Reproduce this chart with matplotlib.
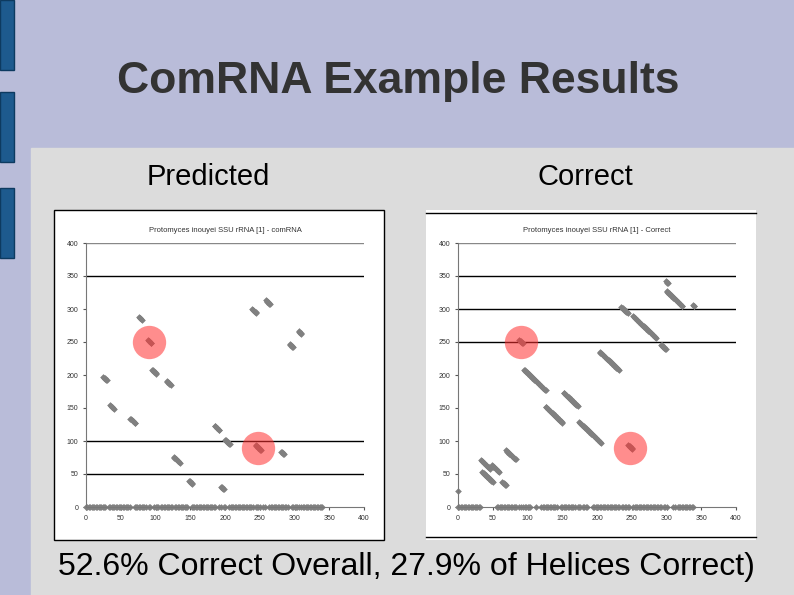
import matplotlib
matplotlib.use("Agg")
import matplotlib.pyplot as plt
from matplotlib.patches import Rectangle
import numpy as np

W, H = 794, 595
# helices: (start i, start j, length)  points (i+k, j-k)
pred_helices = [(76, 288, 5), (89, 253, 6), (25, 197, 6), (35, 154, 6), (64, 134, 8),
                (95, 208, 7), (116, 191, 7), (126, 76, 10), (148, 40, 6), (185, 123, 8),
                (200, 102, 8), (194, 31, 5), (239, 300, 7), (259, 313, 7), (244, 94, 9),
                (281, 84, 5), (293, 247, 6), (306, 266, 5)]
pred_unpaired = [(0, 28), (33, 64), (70, 78), (80, 86), (90, 92), (98, 104), (108, 124),
                 (128, 146), (152, 186), (192, 194), (198, 200), (206, 240), (244, 250),
                 (255, 258), (264, 290), (296, 306), (310, 340)]
corr_helices = [(0, 25, 1), (33, 71, 14), (35, 53, 16), (49, 63, 11), (64, 38, 6), (69, 86, 15),
                (88, 253, 6), (95, 208, 32), (126, 152, 25), (152, 173, 21), (174, 129, 33),
                (204, 235, 28), (235, 303, 10), (252, 289, 34), (292, 246, 8), (299, 342, 4),
                (300, 327, 24), (338, 306, 3), (245, 94, 7)]
corr_unpaired = [(0, 33), (56, 60), (62, 84), (88, 90), (94, 104), (112, 112), (120, 142),
                 (148, 168), (172, 176), (180, 186), (194, 232), (236, 246), (252, 292),
                 (296, 300), (310, 312), (316, 328), (330, 338)]
highlights = [(91, 250), (248, 90)]
ticks = [0, 50, 100, 150, 200, 250, 300, 350, 400]

fig = plt.figure(figsize=(W/100, H/100), dpi=100)
plt.rcParams['font.family'] = ['Liberation Sans', 'DejaVu Sans']
bg = fig.add_axes([0, 0, 1, 1]); bg.set_xlim(0, W); bg.set_ylim(H, 0); bg.axis('off')
bg.add_patch(Rectangle((0, 0), W, H, color='#b9bcd9'))
bg.add_patch(Rectangle((31, 148), W-31, H-148, color='#dcdcdc'))
for y0, y1 in [(0, 70), (92, 162), (188, 258)]:
    bg.add_patch(Rectangle((0, y0), 14, y1-y0, color='#1d5a8e', ec='#0d3a60'))
bg.text(398, 82, "ComRNA Example Results", ha='center', va='center', fontsize=32,
        fontweight='bold', color='#333333')
bg.text(208, 177, "Predicted", ha='center', va='center', fontsize=21, color='black')
bg.text(585, 177, "Correct", ha='center', va='center', fontsize=21, color='black')
bg.text(406, 567, "52.6% Correct Overall, 27.9% of Helices Correct)", ha='center',
        va='center', fontsize=23, color='black')
bg.add_patch(Rectangle((54, 210), 330, 330, fc='white', ec='black', lw=1))
bg.add_patch(Rectangle((426, 210), 330, 330, fc='white', ec='none'))
bg.plot([426, 756], [213, 213], color='black', lw=1)
bg.plot([426, 756], [537, 537], color='black', lw=1)

def panel(x0, title, helices, unpaired, lines):
    ax = fig.add_axes([x0/W, 1-507/H, 278/W, 264/H])
    ax.set_xlim(0, 400); ax.set_ylim(0, 400)
    for y in lines:
        ax.axhline(y, color='black', lw=1)
    ax.axhline(400, color='#888888', lw=1)
    xs, ys = [], []
    for i, j, n in helices:
        for k in range(n):
            xs.append(i+k); ys.append(j-k)
    for a, b in unpaired:
        for x in range(a, b+1, 2):
            xs.append(x); ys.append(0)
    ax.plot(xs, ys, 'D', color='#808080', ms=3.4, mec='none', clip_on=False)
    for hx, hy in highlights:
        ax.plot(hx, hy, 'o', color='#ff3030', alpha=0.55, ms=24, mec='none')
    ax.set_xticks(ticks); ax.set_yticks(ticks)
    ax.tick_params(labelsize=5, length=2, color='#555555', labelcolor='#333333')
    for s in ['top', 'right']:
        ax.spines[s].set_visible(False)
    for s in ['left', 'bottom']:
        ax.spines[s].set_color('#777777')
    ax.set_title(title, fontsize=5.5, color='#333333', pad=8)
    ax.patch.set_alpha(0)

panel(86, "Protomyces inouyei SSU rRNA [1] - comRNA", pred_helices, pred_unpaired, [350, 100, 50])
panel(458, "Protomyces inouyei SSU rRNA [1] - Correct", corr_helices, corr_unpaired, [350, 300, 250])
fig.savefig("out.png", dpi=100)
